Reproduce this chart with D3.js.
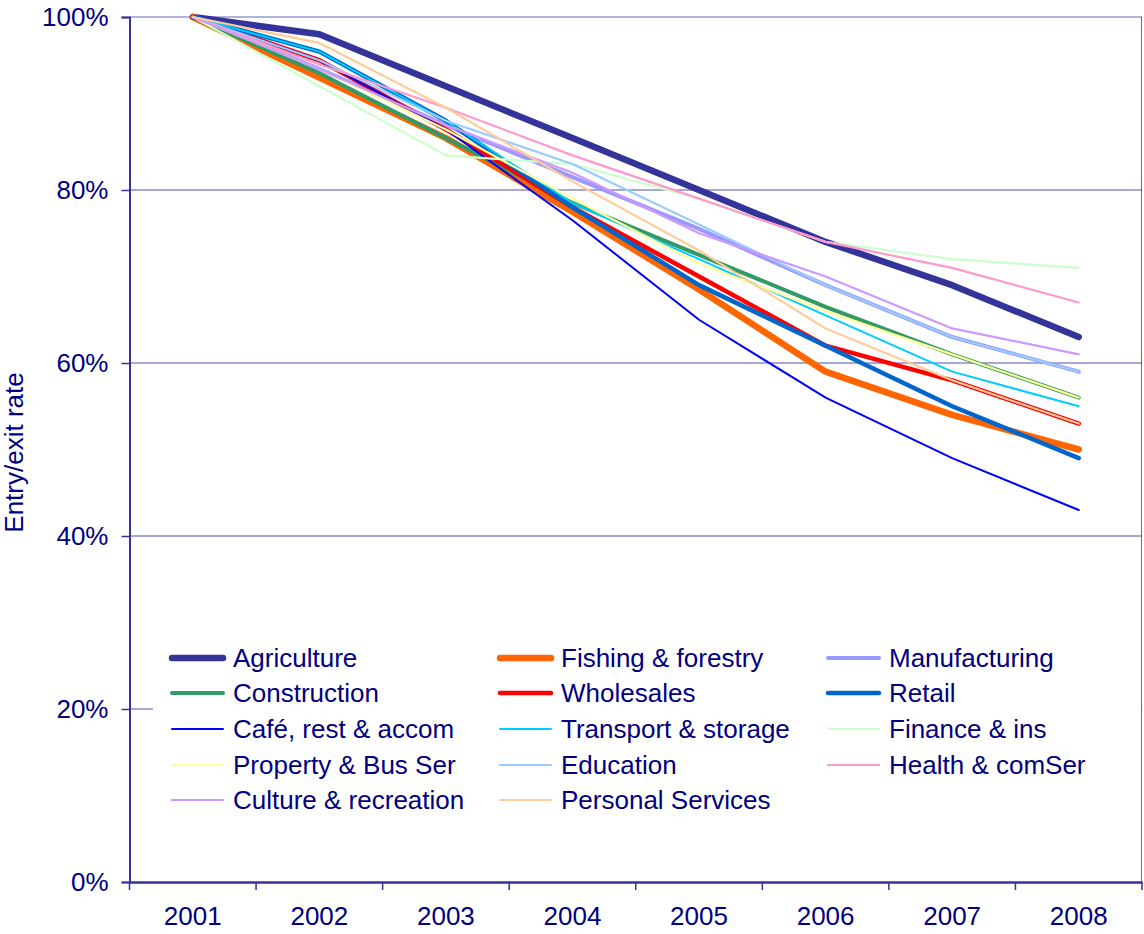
<!DOCTYPE html>
<html>
<head>
<meta charset="utf-8">
<script src="https://cdn.jsdelivr.net/npm/d3@7"></script>
<style>
  html, body { margin: 0; padding: 0; background: #fff; }
  svg { display: block; font-family: "Liberation Sans", Arial, Helvetica, sans-serif; }
</style>
</head>
<body>
<svg id="chart" width="1144" height="934"></svg>
<script>
// Years on the horizontal axis
const years = ["2001", "2002", "2003", "2004", "2005", "2006", "2007", "2008"];

// Share of 2001 businesses still operating (%)
const agriculture = [100, 98, 92, 86, 80, 74, 69, 63];
const fishing     = [100, 93, 86, 77.5, 68.5, 59, 54, 50];
const manufacturing = [100, 94, 87.5, 81.5, 75.5, 69, 63, 59];
const construction  = [100, 93.5, 86, 78.5, 72.5, 66.5, 61, 56];
const wholesales    = [100, 95, 87, 78, 70, 62, 58, 53];
const retail        = [100, 96, 88, 78, 69, 62, 55, 49];
const cafe          = [100, 95, 87, 76.5, 65, 56, 49, 43];
const transport     = [100, 96, 88, 78.5, 72, 65.5, 59, 55];
const finance       = [100, 92, 84, 83, 79, 74, 72, 71];
const property      = [100, 94, 87, 79, 71.5, 66, 61, 56];
const education     = [100, 95, 88, 83, 76, 69, 63, 59];
const health        = [100, 94.5, 89.5, 84, 79, 74, 71, 67];
const culture       = [100, 94, 87.5, 82, 75, 70, 64, 61];
const personal      = [100, 97, 89.5, 81, 73, 64, 58, 53];

const seriesNames = [
  "Agriculture", "Fishing & forestry", "Manufacturing",
  "Construction", "Wholesales", "Retail",
  "Café, rest & accom", "Transport & storage", "Finance & ins",
  "Property & Bus Ser", "Education", "Health & comSer",
  "Culture & recreation", "Personal Services"
];
const seriesValues = [
  agriculture, fishing, manufacturing,
  construction, wholesales, retail,
  cafe, transport, finance,
  property, education, health,
  culture, personal
];

// Y axis ticks
const yTicks = [0, 20, 40, 60, 80, 100];

// Line styles per series
const seriesColors = [
  "#333399", "#FF6600", "#9999FF",
  "#339966", "#FF0000", "#0066CC",
  "#0000FF", "#00CCFF", "#CCFFCC",
  "#FFFF99", "#99CCFF", "#FF99CC",
  "#CC99FF", "#FFCC99"
];
const seriesWidths = [
  6.5, 6.5, 4,
  4, 4.5, 4.5,
  2, 2, 2.2,
  2.2, 2.2, 2.2,
  2.2, 2.2
];

const series = seriesNames.map((name, i) => ({
  name, values: seriesValues[i], color: seriesColors[i], width: seriesWidths[i]
}));

const svg = d3.select("#chart");
const axisColor = "#333399";
const textColor = "#000080";
const fontSize = 26;

const plot = { left: 129.5, right: 1142, top: 17, bottom: 882 };

const x = d3.scaleBand().domain(years).range([plot.left, plot.right]);
const y = d3.scaleLinear().domain([0, 100]).range([plot.bottom, plot.top]);

// Horizontal gridlines
svg.append("g")
  .selectAll("line")
  .data(yTicks.filter(d => d > 0))
  .join("line")
  .attr("x1", plot.left).attr("x2", plot.right)
  .attr("y1", d => y(d)).attr("y2", d => y(d))
  .attr("stroke", axisColor).attr("stroke-width", 1)
  .attr("stroke-opacity", d => d === 100 ? 0.75 : 0.85);

// Right border of the plot area
svg.append("line")
  .attr("x1", plot.right - 0.5).attr("x2", plot.right - 0.5)
  .attr("y1", plot.top).attr("y2", plot.bottom)
  .attr("stroke", axisColor).attr("stroke-opacity", 0.75).attr("stroke-width", 1);

// Series lines
const line = d3.line()
  .x((d, i) => x(years[i]) + x.bandwidth() / 2)
  .y(d => y(d));

svg.append("g")
  .selectAll("path")
  .data(series)
  .join("path")
  .attr("d", d => line(d.values))
  .attr("fill", "none")
  .attr("stroke", d => d.color)
  .attr("stroke-width", d => d.width)
  .attr("stroke-linecap", "round")
  .attr("stroke-linejoin", "round");

// Y axis
const yAxis = svg.append("g")
  .attr("transform", `translate(${plot.left},0)`)
  .call(d3.axisLeft(y).tickValues(yTicks).tickFormat(d => d + "%").tickSize(8).tickPadding(13));
yAxis.select(".domain").attr("stroke", axisColor).attr("stroke-width", 2);
yAxis.selectAll(".tick line").attr("stroke", axisColor).attr("stroke-width", 1.5);
yAxis.selectAll(".tick text")
  .attr("fill", textColor).attr("font-size", fontSize)
  .attr("font-family", "'Liberation Sans', Arial, sans-serif");

// X axis: labels centred in each band, ticks on band edges
const xAxis = svg.append("g")
  .attr("transform", `translate(0,${plot.bottom})`)
  .call(d3.axisBottom(x).tickSize(0).tickPadding(25));
xAxis.select(".domain").attr("stroke", axisColor).attr("stroke-width", 2.5);
xAxis.selectAll(".tick text")
  .attr("fill", textColor).attr("font-size", fontSize)
  .attr("font-family", "'Liberation Sans', Arial, sans-serif");
xAxis.selectAll("line.edge")
  .data(years.map(d => x(d)).concat([plot.right]))
  .join("line")
  .attr("class", "edge")
  .attr("x1", d => d).attr("x2", d => d)
  .attr("y1", 0).attr("y2", 8)
  .attr("stroke", axisColor).attr("stroke-width", 1.5);

// Axis title
svg.append("text")
  .attr("transform", `translate(23,${(y(40) + y(60)) / 2 + 3}) rotate(-90)`)
  .attr("text-anchor", "middle")
  .attr("fill", textColor)
  .attr("font-size", 26)
  .text("Entry/exit rate");

// Legend
const legend = svg.append("g");
legend.append("rect")
  .attr("x", 153).attr("y", 633)
  .attr("width", plot.right - 1 - 153).attr("height", 192)
  .attr("fill", "#fff");

const colX = [170, 498, 826];
const rowY = [658, 693, 729, 765, 800];
const items = legend.selectAll("g.item")
  .data(series)
  .join("g")
  .attr("class", "item")
  .attr("transform", (d, i) => `translate(${colX[i % 3]},${rowY[Math.floor(i / 3)]})`);
items.append("line")
  .attr("x1", 2).attr("x2", 53)
  .attr("y1", 0).attr("y2", 0)
  .attr("stroke", d => d.color)
  .attr("stroke-width", d => d.width)
  .attr("stroke-linecap", "round");
items.append("text")
  .attr("x", 63).attr("y", 0)
  .attr("dy", "0.35em")
  .attr("fill", textColor)
  .attr("font-size", fontSize)
  .text(d => d.name);
</script>
</body>
</html>
